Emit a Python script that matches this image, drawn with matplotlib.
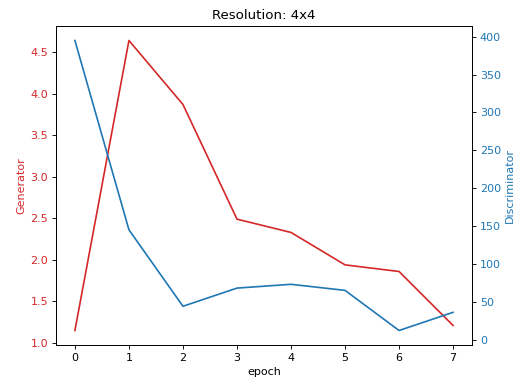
import matplotlib
matplotlib.use("Agg")
import matplotlib.pyplot as plt

epochs = [0, 1, 2, 3, 4, 5, 6, 7]
generator_loss = [1.15, 4.64, 3.87, 2.49, 2.33, 1.94, 1.86, 1.21]
discriminator_loss = [395, 145, 44, 68, 73, 65, 12, 36]

fig, ax1 = plt.subplots(figsize=(519 / 80, 383 / 80), dpi=80)
fig.subplots_adjust(left=56 / 519, right=472 / 519, top=1 - 26 / 383, bottom=1 - 345 / 383)

# generator on the left axis
ax1.plot(epochs, generator_loss, color="tab:red")
ax1.set_xlabel("epoch")
ax1.set_ylabel("Generator", color="tab:red")
ax1.tick_params(axis="y", labelcolor="tab:red")

# discriminator on the right axis
ax2 = ax1.twinx()
ax2.plot(epochs, discriminator_loss, color="tab:blue")
ax2.set_ylabel("Discriminator", color="tab:blue")
ax2.tick_params(axis="y", labelcolor="tab:blue")

ax1.set_title("Resolution: 4x4")
fig.savefig("out.png")
